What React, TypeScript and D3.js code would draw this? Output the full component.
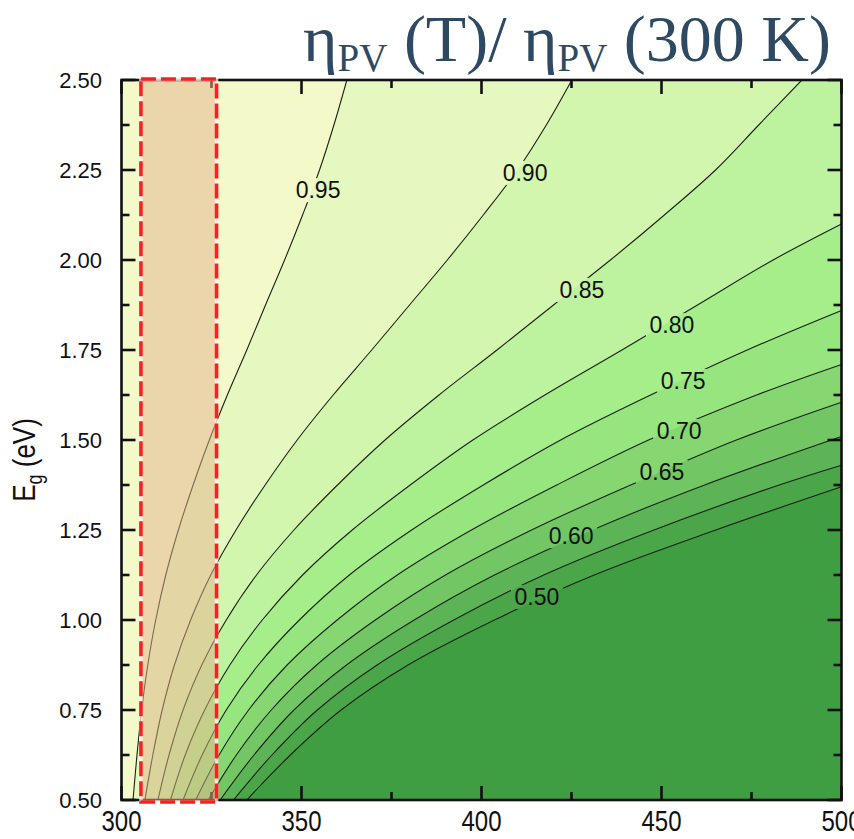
import React from "react";
import * as d3 from "d3";

// band-gap grid (eV) used to read the contour lines off the plot
const egGrid = [0.5, 0.625, 0.75, 0.875, 1.0, 1.125, 1.25, 1.375, 1.5, 1.625, 1.75, 1.875, 2.0, 2.125, 2.25, 2.375, 2.5];
const levels = [0.95, 0.9, 0.85, 0.8, 0.75, 0.7, 0.65, 0.6, 0.55, 0.5];

// temperature (K) of each contour at the egGrid values, until it leaves the plot
const t95 = [303.2, 304.3, 305.6, 307.3, 309.5, 312.3, 315.8, 319.9, 324.4, 329.4, 334.8, 340.0, 345.3, 350.3, 355.0, 359.0, 362.6];
const t90 = [306.5, 308.7, 311.3, 314.7, 319.2, 324.8, 331.8, 339.9, 348.8, 358.8, 369.5, 380.0, 390.5, 400.5, 410.0, 418.0, 425.1];
const t85 = [310.1, 313.2, 317.1, 322.3, 329.1, 337.5, 347.9, 360.0, 373.2, 388.2, 404.3, 420.0, 435.8, 450.8, 465.0, 477.0, 489.0];
const t80 = [313.6, 317.7, 323.1, 330.1, 339.1, 350.3, 364.1, 380.2, 397.6, 417.6, 439.0, 460.0, 481.0];
const t75 = [317.1, 322.4, 329.1, 338.0, 349.4, 363.3, 380.6, 400.5, 422.0, 447.0, 473.8];
const t70 = [320.6, 327.1, 335.3, 346.0, 359.9, 376.6, 397.2, 420.9, 446.4, 476.4];
const t65 = [324.1, 331.9, 341.6, 354.2, 370.5, 390.0, 413.9, 441.4, 470.8];
const t60 = [327.4, 336.8, 347.9, 362.5, 381.3, 403.6, 430.8, 462.0];
const t55 = [331.1, 341.8, 354.4, 371.0, 392.3, 417.3, 447.9, 482.7];
const t50 = [334.8, 346.9, 361.0, 379.6, 403.6, 431.3, 465.1];
const contourT = [t95, t90, t85, t80, t75, t70, t65, t60, t55, t50];

// Eg where a contour runs out through the right edge (T = 500 K); null = through the top
const exitEg = [null, null, null, 2.1, 1.86, 1.71, 1.605, 1.51, 1.43, 1.37];

// fill of each band, from > 0.95 down to < 0.50
const bandColors = ["#f4f9ca", "#e4f8bf", "#d3f6af", "#bdf39e", "#a6ee8a", "#97e57f", "#86d772", "#72c764", "#5cb456", "#4ba649", "#409e42"];

const labelText = ["0.95", "0.90", "0.85", "0.80", "0.75", "0.70", "0.65", "0.60", "0.50"];
const labelT = [354.6, 412.1, 427.9, 452.9, 456.0, 454.9, 450.1, 424.9, 415.4];
const labelEg = [2.194, 2.242, 1.917, 1.819, 1.664, 1.525, 1.411, 1.233, 1.064];

const xTicks = [300, 350, 400, 450, 500];
const yTicks = [0.5, 0.75, 1.0, 1.25, 1.5, 1.75, 2.0, 2.25, 2.5];
const highlightT = [305.4, 326.4];

const W = 854;
const H = 839;

export default function App() {
  const x = d3.scaleLinear().domain([300, 500]).range([121.5, 841.5]);
  const y = d3.scaleLinear().domain([0.5, 2.5]).range([800, 80]);
  const [x0, x1] = x.range();
  const [y0, y1] = y.range();

  const line = d3
    .line<[number, number]>()
    .x((d) => x(d[0]))
    .y((d) => y(d[1]))
    .curve(d3.curveCatmullRom.alpha(0.5));

  const contours = contourT.map((ts, i) => {
    const pts: [number, number][] = ts.map((t, j) => [t, egGrid[j]]);
    const ex = exitEg[i];
    if (ex != null) pts.push([500, ex]);
    const d = line(pts) || "";
    const fill =
      ex != null
        ? `${d}L${x(500)},${y(0.5)}Z`
        : `${d}L${x(500)},${y(2.5)}L${x(500)},${y(0.5)}Z`;
    return { d, fill, level: levels[i] };
  });

  const sans = "'Liberation Sans', Arial, sans-serif";
  const labelSize = 23;

  const minorX = d3.range(325, 500, 50);
  const minorY = d3.range(0.625, 2.5, 0.25);
  const tickW = 2.6;
  const major = 14;
  const minor = 8;

  return (
    <svg width={W} height={H} style={{ position: "absolute", left: 0, top: 0, background: "#fff" }}>
      <defs>
        <clipPath id="plot">
          <rect x={x0} y={y1} width={x1 - x0} height={y0 - y1} />
        </clipPath>
        <mask id="labelGaps" maskUnits="userSpaceOnUse" x={0} y={0} width={W} height={H}>
          <rect x={0} y={0} width={W} height={H} fill="#fff" />
          {labelText.map((t, i) => (
            <rect
              key={t}
              x={x(labelT[i]) - 26}
              y={y(labelEg[i]) - 12}
              width={52}
              height={24}
              fill="#000"
            />
          ))}
        </mask>
      </defs>

      <g clipPath="url(#plot)">
        <rect x={x0} y={y1} width={x1 - x0} height={y0 - y1} fill={bandColors[0]} />
        {contours.map((c, i) => (
          <path key={c.level} d={c.fill} fill={bandColors[i + 1]} />
        ))}
        <g mask="url(#labelGaps)">
          {contours.map((c) => (
            <path key={c.level} d={c.d} fill="none" stroke="#1a2214" strokeWidth={1.1} />
          ))}
        </g>
      </g>

      {labelText.map((t, i) => (
        <text
          key={t}
          x={x(labelT[i])}
          y={y(labelEg[i])}
          textAnchor="middle"
          dominantBaseline="central"
          fontFamily={sans}
          fontSize={labelSize}
          fill="#111"
        >
          {t}
        </text>
      ))}

      {/* frame and inward ticks */}
      <rect x={x0} y={y1} width={x1 - x0} height={y0 - y1} fill="none" stroke="#111" strokeWidth={2.6} />
      <g stroke="#111" strokeWidth={tickW}>
        {xTicks.map((t) => (
          <g key={t}>
            <line x1={x(t)} x2={x(t)} y1={y0} y2={y0 - major} />
            <line x1={x(t)} x2={x(t)} y1={y1} y2={y1 + major} />
          </g>
        ))}
        {minorX.map((t) => (
          <g key={t}>
            <line x1={x(t)} x2={x(t)} y1={y0} y2={y0 - minor} />
            <line x1={x(t)} x2={x(t)} y1={y1} y2={y1 + minor} />
          </g>
        ))}
        {yTicks.map((t) => (
          <g key={t}>
            <line x1={x0} x2={x0 + major} y1={y(t)} y2={y(t)} />
            <line x1={x1} x2={x1 - major} y1={y(t)} y2={y(t)} />
          </g>
        ))}
        {minorY.map((t) => (
          <g key={t}>
            <line x1={x0} x2={x0 + minor} y1={y(t)} y2={y(t)} />
            <line x1={x1} x2={x1 - minor} y1={y(t)} y2={y(t)} />
          </g>
        ))}
      </g>

      {yTicks.map((t) => (
        <text
          key={t}
          x={102}
          y={y(t)}
          textAnchor="end"
          dominantBaseline="central"
          fontFamily={sans}
          fontSize={22}
          fill="#111"
        >
          {t.toFixed(2)}
        </text>
      ))}
      {xTicks.map((t) => (
        <text
          key={t}
          transform={`translate(${x(t)},831) scale(1,1.22)`}
          textAnchor="middle"
          fontFamily={sans}
          fontSize={24}
          fill="#111"
        >
          {t}
        </text>
      ))}

      <text
        transform="translate(35,460) rotate(-90) scale(1,1.2)"
        textAnchor="middle"
        fontFamily={sans}
        fontSize={26}
        fill="#111"
      >
        E
        <tspan fontSize={18} dy={6}>g</tspan>
        <tspan dy={-6}> (eV)</tspan>
      </text>

      {/* highlighted temperature window */}
      <rect
        x={x(highlightT[0])}
        y={79}
        width={x(highlightT[1]) - x(highlightT[0])}
        height={723}
        fill="rgba(226,178,138,0.5)"
        stroke="rgba(255,255,255,0.7)"
        strokeWidth={3.6}
      />
      <rect
        x={x(highlightT[0])}
        y={79}
        width={x(highlightT[1]) - x(highlightT[0])}
        height={723}
        fill="none"
        stroke="#ff1e1e"
        strokeWidth={3.6}
        strokeDasharray="15 5"
      />

      <text x={303} y={61} fontFamily="'Liberation Serif', 'DejaVu Serif', serif" fontSize={66} fill="#2e4a62">
        η<tspan fontSize={39} dy={10}>PV</tspan>
        <tspan dy={-10}> (T)/ η</tspan>
        <tspan fontSize={39} dy={10}>PV</tspan>
        <tspan dy={-10}> (300 K)</tspan>
      </text>
    </svg>
  );
}
